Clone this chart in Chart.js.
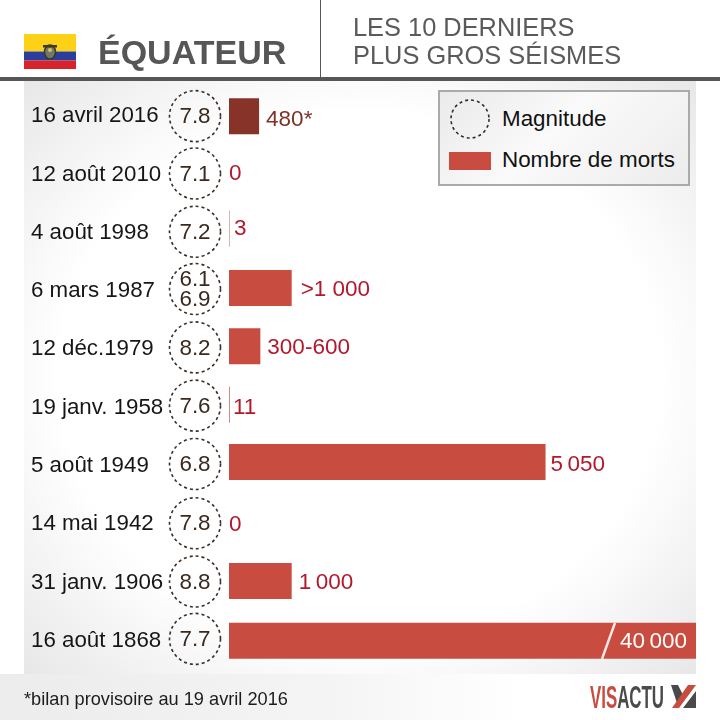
<!DOCTYPE html>
<html lang="fr"><head><meta charset="utf-8"><title>Équateur</title>
<script src="https://cdn.jsdelivr.net/npm/chart.js@4"></script>
<style>
html,body{margin:0;padding:0;background:#fff}
#page{position:relative;width:720px;height:720px;overflow:hidden;font-family:"Liberation Sans",Arial,sans-serif}
#page>*{position:absolute}
#panel{left:24px;top:81px;width:672px;height:593px;background:radial-gradient(ellipse 72% 72% at 50% 50%,#fff 62%,#e6e6e6 100%)}
#foot{left:0;top:674px;width:720px;height:46px;background:linear-gradient(90deg,#ececec 0%,#f4f4f4 45%,#fff 72%)}
#rule{left:0;top:77px;width:720px;height:4px;background:#565656}
#vrule{left:320px;top:0;width:1px;height:77px;background:#565656}
#flag{left:24px;top:34px}
#title{left:98px;top:32px;font-size:34px;line-height:40px;font-weight:bold;color:#565656;white-space:nowrap}
#sub{left:353px;top:13px;font-size:25.4px;line-height:28px;color:#5a5a5a;white-space:nowrap}
#note{left:24px;top:687px;font-size:18.2px;line-height:24px;color:#1c1c1c;white-space:nowrap}
#chart{left:0;top:0}
#legend{left:438px;top:90px;width:248px;height:92px;border:2px solid #aaa;background:linear-gradient(135deg,#eaeaea,#fafafa 45%,#ececec)}
#legend>*{position:absolute}
.lt{left:62px;font-size:22.4px;line-height:26px;color:#111;white-space:nowrap}
#logo{left:588px;top:682px}
</style></head><body>
<div id="page">
<div id="panel"></div><div id="foot"></div>
<canvas id="chart" width="720" height="720"></canvas>
<div id="rule"></div><div id="vrule"></div>
<svg id="flag" width="52" height="35" viewBox="0 0 52 35"><rect width="52" height="17.5" fill="#fcd116"/><rect y="17.5" width="52" height="9" fill="#2a3f9d"/><rect y="26.5" width="52" height="8.5" fill="#d8232a"/><ellipse cx="26" cy="18" rx="5.5" ry="7" fill="#6f7a6a" stroke="#3c3a25" stroke-width="1.6"/><rect x="19" y="11" width="14" height="2.5" fill="#3c3a25"/><circle cx="26" cy="16" r="2" fill="#d9c25a"/></svg>
<div id="title">ÉQUATEUR</div>
<div id="sub">LES 10 DERNIERS<br>PLUS GROS SÉISMES</div>
<div id="legend">
<svg style="left:9px;top:7px" width="42" height="42"><circle cx="21" cy="20" r="19" fill="none" stroke="#3b2e26" stroke-width="1.6" stroke-dasharray="3 3"/></svg>
<div class="lt" style="top:14px">Magnitude</div>
<div style="left:9px;top:60px;width:42px;height:18px;background:#c94c40"></div>
<div class="lt" style="top:55px">Nombre de morts</div>
</div>
<div id="note">*bilan provisoire au 19 avril 2016</div>
<svg id="logo" width="110" height="30" viewBox="0 0 110 30"><text x="2" y="26" font-family="Liberation Sans Narrow,Liberation Sans" font-weight="bold" font-size="32" textLength="74" lengthAdjust="spacingAndGlyphs"><tspan fill="#c94c40">VIS</tspan><tspan fill="#4a4a4a">ACTU</tspan></text><polygon points="83,3 90,3 95,13 89,21" fill="#4a4a4a"/><polygon points="108,3 100,3 84,26 91,26" fill="#c94c40"/><polygon points="108,9 108,26 95,26" fill="#4a4a4a"/></svg>
</div>
<script>
const categories = ["16 avril 2016","12 août 2010","4 août 1998","6 mars 1987","12 déc.1979","19 janv. 1958","5 août 1949","14 mai 1942","31 janv. 1906","16 août 1868"];
const deaths = [480,0,3,1000,500,11,5050,0,1000,40000];
const deathLabels = ["480*","0","3",">1 000","300-600","11","5\u2009050","0","1\u2009000","40\u2009000"];
const magnitudes = [["7.8"],["7.1"],["7.2"],["6.1","6.9"],["8.2"],["7.6"],["6.8"],["7.8"],["8.8"],["7.7"]];

const barColors = ["#88332a","rgba(0,0,0,0)","#dcb3ab","#c94c40","#c94c40","#d98a80","#c94c40","rgba(0,0,0,0)","#c94c40","#c94c40"];
const labelColors = ["#7f3227","#b3182c","#b3182c","#b3182c","#b3182c","#b3182c","#b3182c","#b3182c","#b3182c","#fff"];
const labelGaps = [7,-1,4,9,7,3,5,-1,7,0];
const barNudge = [0,0,-4,-3,-3,-3,-4,0,-1.5,0];
const circleNudge = [0,-1,-1,-2,-2,-2,-2,-1,-1,-2];
const labelNudge = [3.5,-1,0.5,1.5,1.5,3,3,0.5,2,0.5];
const AXIS_MAX = 7450;
const FONT = '"Liberation Sans",Arial,sans-serif';

const decorations = {
  id:'decorations',
  afterDatasetsUpdate(chart){
    chart.getDatasetMeta(0).data.forEach((b,i)=>{ b.y += barNudge[i]; });
  },
  afterDatasetsDraw(chart){
    const {ctx, chartArea, scales:{y}} = chart;
    const bars = chart.getDatasetMeta(0).data;
    ctx.save();
    categories.forEach((c,i)=>{
      const cy = y.getPixelForValue(i) + circleNudge[i];
      ctx.beginPath(); ctx.setLineDash([3,3]); ctx.lineWidth=1.6; ctx.strokeStyle='#3b2e26';
      ctx.arc(195,cy,25.5,0,Math.PI*2); ctx.stroke(); ctx.setLineDash([]);
      ctx.fillStyle='#3a2a1e'; ctx.font='22.4px '+FONT; ctx.textAlign='center'; ctx.textBaseline='middle';
      const m = magnitudes[i];
      m.forEach((t,k)=>ctx.fillText(t,195,cy+1+(k-(m.length-1)/2)*20));
      const b = bars[i], end = Math.min(b.x, chartArea.right), ly = b.y + labelNudge[i];
      ctx.font='22.5px '+FONT; ctx.fillStyle=labelColors[i];
      if(deaths[i]>AXIS_MAX){
        ctx.textAlign='right'; ctx.fillText(deathLabels[i],end-9,ly);
        ctx.beginPath(); ctx.strokeStyle='#fbe9e4'; ctx.lineWidth=2.5;
        ctx.moveTo(end-81,b.y-b.height/2); ctx.lineTo(end-94,b.y+b.height/2); ctx.stroke();
      } else {
        ctx.textAlign='left'; ctx.fillText(deathLabels[i],end+labelGaps[i],ly);
      }
    });
    ctx.restore();
  }
};

new Chart(document.getElementById('chart'),{
  type:'bar',
  data:{labels:categories,datasets:[{label:'Nombre de morts',data:deaths,backgroundColor:barColors,borderWidth:0,minBarLength:1,barPercentage:0.617,categoryPercentage:1}]},
  options:{
    indexAxis:'y',responsive:false,animation:false,
    layout:{padding:{left:31,top:87,bottom:50,right:24}},
    plugins:{legend:{display:false},tooltip:{enabled:false}},
    scales:{
      x:{display:false,min:0,max:AXIS_MAX},
      y:{
        grid:{display:false,drawTicks:false},border:{display:false},
        afterFit(s){s.width=198;},
        ticks:{crossAlign:'far',autoSkip:false,color:'#161616',font:{family:FONT,size:22.3}}
      }
    }
  },
  plugins:[decorations]
});
</script>
</body></html>
